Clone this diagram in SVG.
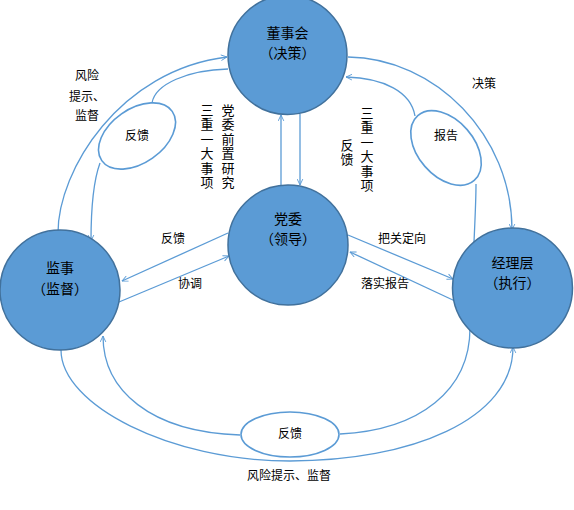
<svg xmlns="http://www.w3.org/2000/svg" width="574" height="510" viewBox="0 0 574 510">
<style>
.node{fill:#5B9BD5;stroke:#41719C;stroke-width:1.5}
.t{font-family:"Noto Sans CJK SC","Liberation Sans",sans-serif;fill:#000;text-anchor:middle}
.nt{font-size:14px}
.lt{font-size:12px}
.vt{font-family:"Noto Sans CJK SC","Liberation Sans",sans-serif;fill:#000;font-size:13px;writing-mode:vertical-rl;text-anchor:start;letter-spacing:1.4px}
.c{fill:none;stroke:#5B9BD5;stroke-width:1.3}
.el{fill:#fff;stroke:#5B9BD5;stroke-width:1.6}
</style>
<defs>
<marker id="arr" viewBox="0 0 10 10" refX="9.5" refY="5" markerWidth="7" markerHeight="7" markerUnits="userSpaceOnUse" orient="auto">
<path d="M1,1 L9.5,5 L1,9" fill="none" stroke="#5B9BD5" stroke-width="1.3"/>
</marker>
</defs>
<rect width="574" height="510" fill="#fff"/>
<g id="connectors">
<line class="c" x1="281" y1="186" x2="281" y2="115" marker-end="url(#arr)"/>
<line class="c" x1="300" y1="114" x2="300" y2="185" marker-end="url(#arr)"/>
<path class="c" d="M58,233 C58,170 120,70 227,57" marker-end="url(#arr)"/>
<path class="c" d="M228,69 C188,70 155,84 152,103"/>
<path class="c" d="M100,163 C93,182 91,210 91,241" marker-end="url(#arr)"/>
<path class="c" d="M348,57 C435,58 512,135 512,230" marker-end="url(#arr)"/>
<path class="c" d="M474,242 C475,220 476,200 476,184"/>
<path class="c" d="M415,116 C411,92 384,78 346,77" marker-end="url(#arr)"/>
<line class="c" x1="228" y1="233" x2="122" y2="281" marker-end="url(#arr)"/>
<line class="c" x1="119" y1="302" x2="229" y2="256" marker-end="url(#arr)"/>
<line class="c" x1="348" y1="235" x2="453" y2="279" marker-end="url(#arr)"/>
<line class="c" x1="455" y1="301" x2="350" y2="252" marker-end="url(#arr)"/>
<path class="c" d="M240,435 C150,432 103,390 103,336" marker-end="url(#arr)"/>
<path class="c" d="M340,434 C420,430 470,390 470,328"/>
<path class="c" d="M61,350 C61,405 170,461 290,461 C410,461 513,420 513,347" marker-end="url(#arr)"/>
</g>
<g id="fb-left">
<ellipse class="el" cx="137" cy="136" rx="43" ry="27" transform="rotate(-35 137 136)"/>
<text class="t lt" x="137" y="139.6">反馈</text>
</g>
<g id="report-right">
<ellipse class="el" cx="446" cy="148" rx="43" ry="28" transform="rotate(49 446 148)"/>
<text class="t lt" x="446" y="139.6">报告</text>
</g>
<g id="fb-bottom">
<ellipse class="el" cx="290" cy="434.5" rx="49" ry="22.5"/>
<text class="t lt" x="290" y="437.6">反馈</text>
</g>
<g id="board">
<circle class="node" cx="287.5" cy="55" r="59.5"/>
<text class="t nt" x="287.5" y="37.5">董事会</text>
<text class="t nt" x="287.5" y="57.5">（决策）</text>
</g>
<g id="party">
<circle class="node" cx="288" cy="245" r="60"/>
<text class="t nt" x="288" y="223.5">党委</text>
<text class="t nt" x="288" y="243.5">（领导）</text>
</g>
<g id="supervisors">
<circle class="node" cx="60" cy="290" r="60"/>
<text class="t nt" x="60" y="272.5">监事</text>
<text class="t nt" x="60" y="293.5">（监督）</text>
</g>
<g id="managers">
<circle class="node" cx="512.5" cy="288" r="60"/>
<text class="t nt" x="512.5" y="267.5">经理层</text>
<text class="t nt" x="512.5" y="287.5">（执行）</text>
</g>
<g id="labels">
<text class="t lt" x="87" y="79.6">风险</text>
<text class="t lt" x="87" y="100.6">提示、</text>
<text class="t lt" x="87" y="119.6">监督</text>
<text class="t lt" x="484" y="87.6">决策</text>
<text class="t lt" x="173" y="242.6">反馈</text>
<text class="t lt" x="190" y="287.6">协调</text>
<text class="t lt" x="402" y="242.6">把关定向</text>
<text class="t lt" x="385" y="287.6">落实报告</text>
<text class="t lt" x="289" y="479.6">风险提示、监督</text>
<text class="vt" x="207" y="103.5">三重一大事项</text>
<text class="vt" x="228" y="103.5">党委前置研究</text>
<text class="vt" x="367" y="106.5">三重一大事项</text>
<text class="vt" x="347" y="138.5">反馈</text>
</g>
</svg>
